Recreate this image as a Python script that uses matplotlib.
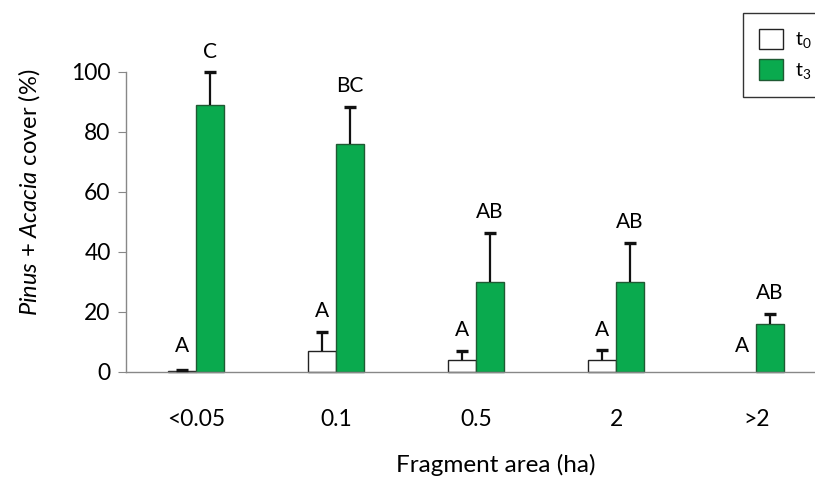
import matplotlib
matplotlib.use("Agg")
import matplotlib.pyplot as plt
import numpy as np
from matplotlib.patches import Patch

categories = ["<0.05", "0.1", "0.5", "2", ">2"]
t0_values = [0.3, 7, 4, 4, 0]
t0_errors = [0.5, 6.5, 3, 3.3, 0]
t3_values = [89, 76, 30, 30, 16]
t3_errors = [11, 12.5, 16.5, 13, 3.5]
t0_letters = ["A", "A", "A", "A", "A"]
t3_letters = ["C", "BC", "AB", "AB", "AB"]

plt.rcParams['font.family'] = ['Lato', 'DejaVu Sans']
plt.rcParams['mathtext.fontset'] = 'custom'
plt.rcParams['mathtext.rm'] = 'Lato'
plt.rcParams['mathtext.it'] = 'Lato:italic'

fig = plt.figure(figsize=(8.15, 4.79), dpi=100)
ax = fig.add_axes([126/815, 107/479, 1 - 126/815, 300/479])

x = np.arange(len(categories))
w = 0.2
green = "#0AAA4E"


def draw(xpos, vals, errs, face, edge, letters):
    vals = np.asarray(vals, float)
    errs = np.asarray(errs, float)
    bars = ax.bar(xpos, vals, w, color=face, edgecolor=edge, linewidth=1.0, zorder=2, clip_on=False)
    for b, v in zip(bars, vals):
        if v == 0:
            b.set_visible(False)
    m = errs > 0
    _, caps, _ = ax.errorbar(xpos[m], vals[m], yerr=[np.zeros(m.sum()), errs[m]],
                             fmt="none", ecolor="#111111", elinewidth=1.6,
                             capsize=4.5, capthick=2.4, zorder=3, clip_on=False)
    caps[0].set_visible(False)
    for c in caps:
        c.set_clip_on(False)
    for xi, v, e, t in zip(xpos, vals, errs, letters):
        ax.text(xi, max(v + e + 3.5, 5.5), t, ha="center", va="bottom",
                fontsize=15, clip_on=False)


draw(x - w/2, t0_values, t0_errors, "white", "#222222", t0_letters)
draw(x + w/2, t3_values, t3_errors, green, "#1f5a33", t3_letters)

ax.set_xlim(-0.5, 4.42)
ax.set_ylim(0, 100)
ax.set_yticks([0, 20, 40, 60, 80, 100])
ax.tick_params(axis="y", labelsize=16.5, length=6, color="#888888", direction="out", pad=5)
ax.set_xticks(x)
ax.set_xticklabels(categories)
ax.tick_params(axis="x", labelsize=16.5, length=0, pad=27)
for s in ["top", "right"]:
    ax.spines[s].set_visible(False)
for s in ["left", "bottom"]:
    ax.spines[s].set_color("#888888")
    ax.spines[s].set_linewidth(1.0)

ax.set_ylabel(r"$\it{Pinus}$ + $\it{Acacia}$ cover (%)", fontsize=17)
ax.yaxis.set_label_coords(-0.122, 0.6)
ax.set_xlabel("Fragment area (ha)", fontsize=17.5)
ax.xaxis.set_label_coords(0.536, -0.272)

handles = [Patch(facecolor="white", edgecolor="#222222", linewidth=1.0),
           Patch(facecolor=green, edgecolor="#1f5a33", linewidth=1.0)]
leg = fig.legend(handles, [r"t$_0$", r"t$_3$"], loc="upper left",
                 bbox_to_anchor=(743/815, 1 - 13/479), frameon=True, fancybox=False,
                 fontsize=14, handlelength=1.25, handleheight=1.25, handletextpad=0.6,
                 borderpad=0.8, labelspacing=0.45, borderaxespad=0)
leg.get_frame().set_edgecolor("black")
leg.get_frame().set_linewidth(1.0)

fig.savefig("out.png", dpi=100)
